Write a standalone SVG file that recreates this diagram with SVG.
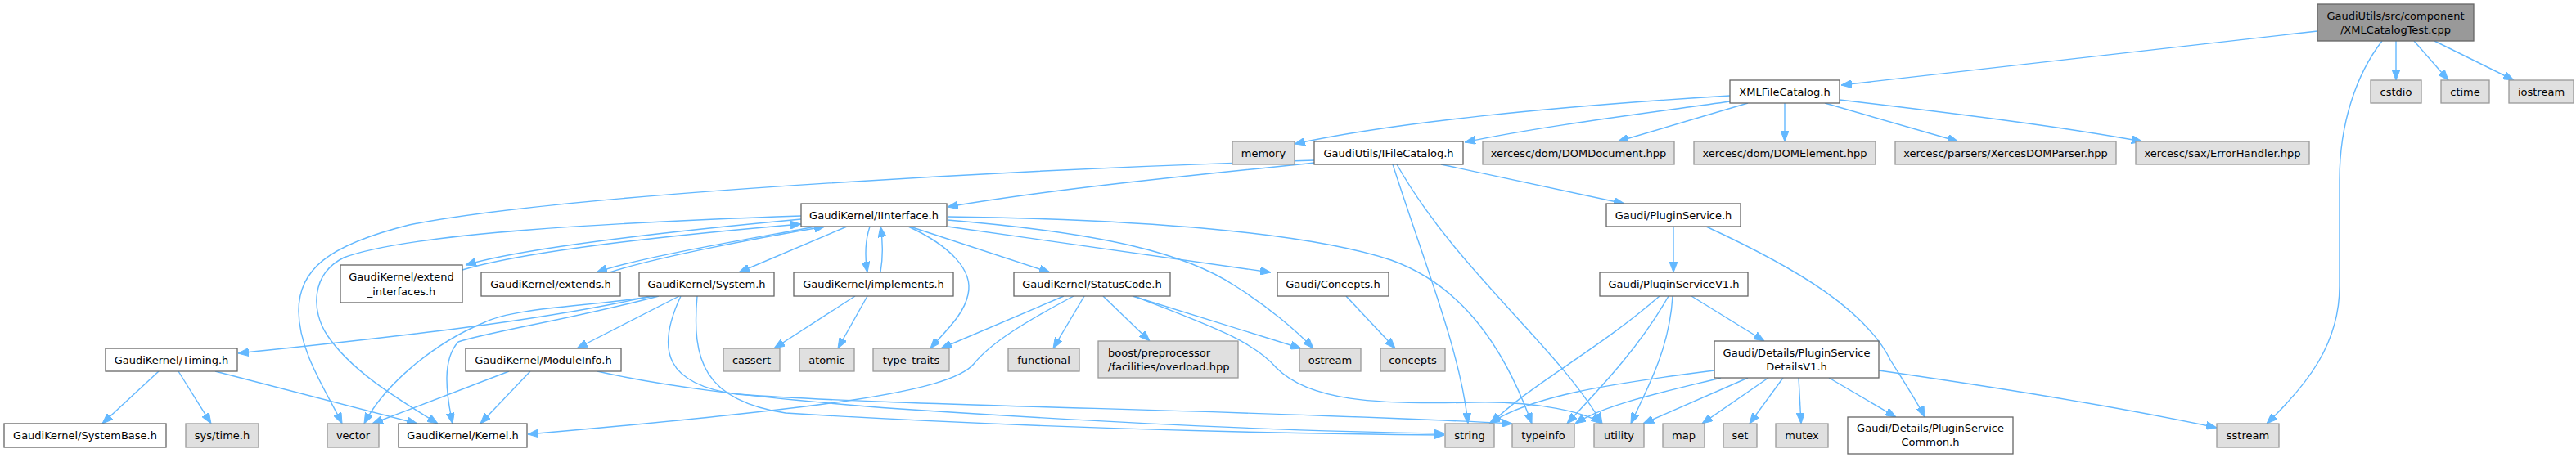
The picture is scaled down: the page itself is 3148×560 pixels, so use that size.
<svg xmlns="http://www.w3.org/2000/svg" width="3148" height="560" viewBox="0 0 3148 560">
<style>
.nd rect{fill:#ffffff;stroke:#666666;stroke-width:1.3}
.sys rect{fill:#e0e0e0;stroke:#999999;stroke-width:1.3}
.root rect{fill:#999999;stroke:#666666;stroke-width:1.3}
text{font-family:"DejaVu Sans","Liberation Sans",sans-serif;font-size:13px;fill:#000000;text-anchor:middle}
text.l{text-anchor:start}
#edges path{fill:none;stroke:#63b8ff;stroke-width:1.4;marker-end:url(#ah)}
</style>
<defs>
<marker id="ah" viewBox="0 0 13 10" refX="13" refY="5" markerWidth="13" markerHeight="10" markerUnits="userSpaceOnUse" orient="auto">
<path d="M0,0 L13,5 L0,10 z" fill="#63b8ff" stroke="#63b8ff" stroke-width="1"/>
</marker>
</defs>
<rect width="3148" height="560" fill="#ffffff"/>
<g id="edges">
<path d="M2832,38 L2250,104"/>
<path d="M2928,50 L2928,98"/>
<path d="M2950,50 L2992,98"/>
<path d="M2975,50 L3072,98"/>
<path d="M2911,50 C2880,90 2859,150 2859,220 L2859,350 C2859,420 2820,470 2770,518"/>
<path d="M2114,117 C1900,130 1700,150 1582,176"/>
<path d="M2114,124 C2000,140 1880,155 1790,174"/>
<path d="M2136,126 L1977,173"/>
<path d="M2181,126 L2181,173"/>
<path d="M2230,126 L2393,173"/>
<path d="M2248,122 C2400,140 2520,155 2618,173"/>
<path d="M1607,199 C1450,215 1280,232 1158,253"/>
<path d="M1607,196 C1300,205 700,235 500,275 C400,300 365,330 365,380 C365,430 400,480 418,518"/>
<path d="M1702,201 C1740,320 1785,430 1794,518"/>
<path d="M1707,201 C1780,330 1900,420 1958,518"/>
<path d="M1761,201 L1985,249"/>
<path d="M979,268 C850,280 650,300 569,324"/>
<path d="M565,330 C650,305 850,285 979,274"/>
<path d="M997,277 C900,295 780,315 729,333"/>
<path d="M745,333 C800,315 920,292 1008,277"/>
<path d="M1035,277 L903,333"/>
<path d="M1063,277 C1057,295 1057,315 1060,333"/>
<path d="M1076,333 C1079,315 1079,295 1076,277"/>
<path d="M1112,277 L1283,333"/>
<path d="M1158,277 L1553,333"/>
<path d="M1110,277 C1160,300 1190,330 1183,360 C1178,385 1155,405 1137,426"/>
<path d="M1158,269 C1350,285 1450,310 1510,350 C1550,375 1585,405 1605,426"/>
<path d="M1158,265 C1400,268 1600,285 1700,318 C1790,350 1840,430 1872,518"/>
<path d="M979,264 C750,272 500,285 420,315 C380,335 380,380 400,410 C430,455 490,490 535,518"/>
<path d="M795,362 C650,395 450,415 291,432"/>
<path d="M800,362 C720,375 630,375 590,395 C530,420 470,470 445,518"/>
<path d="M805,362 C700,390 600,405 560,418 C540,440 545,480 553,518"/>
<path d="M830,362 L705,426"/>
<path d="M832,362 C800,430 815,470 900,482 C1100,497 1500,500 1848,518"/>
<path d="M852,362 C845,440 860,490 960,505 C1200,520 1500,530 1765,532"/>
<path d="M730,454 C800,470 900,485 1100,500 C1400,520 1600,528 1765,530"/>
<path d="M1300,362 L1150,426"/>
<path d="M1312,362 C1250,395 1210,420 1190,445 C1160,480 1000,500 645,531"/>
<path d="M1325,362 L1287,426"/>
<path d="M1348,362 L1405,417"/>
<path d="M1384,362 L1590,426"/>
<path d="M1386,362 C1470,395 1530,415 1560,450 C1600,490 1680,495 1800,492 C1880,490 1940,505 1957,518"/>
<path d="M1645,362 L1705,426"/>
<path d="M194,454 L125,518"/>
<path d="M218,454 L258,518"/>
<path d="M263,454 L510,518"/>
<path d="M622,454 L455,518"/>
<path d="M648,454 L587,518"/>
<path d="M1045,362 L946,426"/>
<path d="M1060,362 L1024,426"/>
<path d="M2045,277 L2045,333"/>
<path d="M2085,277 C2200,330 2280,380 2310,440 C2335,480 2345,495 2352,510"/>
<path d="M2067,362 L2156,417"/>
<path d="M2028,362 C1950,430 1870,470 1822,518"/>
<path d="M2039,362 C2000,430 1950,480 1915,518"/>
<path d="M2044,362 C2040,430 2010,480 1993,518"/>
<path d="M2095,453 C1960,470 1870,485 1820,518"/>
<path d="M2103,462 C2030,480 1960,495 1925,518"/>
<path d="M2136,462 L2008,518"/>
<path d="M2161,462 L2080,518"/>
<path d="M2179,462 L2138,518"/>
<path d="M2198,462 L2201,518"/>
<path d="M2235,462 L2317,510"/>
<path d="M2296,453 C2450,475 2600,500 2709,523"/>
</g>
<g id="n_cpp" class="root"><rect x="2832" y="5" width="191" height="45"/><text x="2927.5" y="24">GaudiUtils/src/component</text><text x="2927.5" y="41">/XMLCatalogTest.cpp</text></g>
<g id="n_xmlfc" class="nd"><rect x="2114" y="98" width="134" height="28"/><text x="2181" y="117">XMLFileCatalog.h</text></g>
<g id="n_cstdio" class="sys"><rect x="2897" y="98" width="62" height="28"/><text x="2928" y="117">cstdio</text></g>
<g id="n_ctime" class="sys"><rect x="2983" y="98" width="59" height="28"/><text x="3012.5" y="117">ctime</text></g>
<g id="n_iostream" class="sys"><rect x="3066" y="98" width="79" height="28"/><text x="3105.5" y="117">iostream</text></g>
<g id="n_memory" class="sys"><rect x="1506" y="173" width="76" height="28"/><text x="1544" y="192">memory</text></g>
<g id="n_ifc" class="nd"><rect x="1606" y="173" width="182" height="28"/><text x="1697" y="192">GaudiUtils/IFileCatalog.h</text></g>
<g id="n_domdoc" class="sys"><rect x="1812" y="173" width="234" height="28"/><text x="1929" y="192">xercesc/dom/DOMDocument.hpp</text></g>
<g id="n_domel" class="sys"><rect x="2070" y="173" width="222" height="28"/><text x="2181" y="192">xercesc/dom/DOMElement.hpp</text></g>
<g id="n_parser" class="sys"><rect x="2316" y="173" width="270" height="28"/><text x="2451" y="192">xercesc/parsers/XercesDOMParser.hpp</text></g>
<g id="n_errh" class="sys"><rect x="2610" y="173" width="212" height="28"/><text x="2716" y="192">xercesc/sax/ErrorHandler.hpp</text></g>
<g id="n_iint" class="nd"><rect x="979" y="249" width="178" height="28"/><text x="1068" y="268">GaudiKernel/IInterface.h</text></g>
<g id="n_ps" class="nd"><rect x="1963" y="249" width="164" height="28"/><text x="2045" y="268">Gaudi/PluginService.h</text></g>
<g id="n_extif" class="nd"><rect x="416" y="324" width="149" height="46"/><text x="490.5" y="343">GaudiKernel/extend</text><text x="490.5" y="361">_interfaces.h</text></g>
<g id="n_extends" class="nd"><rect x="588" y="333" width="170" height="29"/><text x="673" y="352">GaudiKernel/extends.h</text></g>
<g id="n_system" class="nd"><rect x="781" y="333" width="165" height="29"/><text x="863.5" y="352">GaudiKernel/System.h</text></g>
<g id="n_impl" class="nd"><rect x="970" y="333" width="195" height="29"/><text x="1067.5" y="352">GaudiKernel/implements.h</text></g>
<g id="n_sc" class="nd"><rect x="1239" y="333" width="191" height="29"/><text x="1334.5" y="352">GaudiKernel/StatusCode.h</text></g>
<g id="n_concepts_h" class="nd"><rect x="1561" y="333" width="136" height="29"/><text x="1629" y="352">Gaudi/Concepts.h</text></g>
<g id="n_psv1" class="nd"><rect x="1955" y="333" width="181" height="29"/><text x="2045.5" y="352">Gaudi/PluginServiceV1.h</text></g>
<g id="n_timing" class="nd"><rect x="129" y="426" width="161" height="28"/><text x="209.5" y="445">GaudiKernel/Timing.h</text></g>
<g id="n_modinfo" class="nd"><rect x="569" y="426" width="190" height="28"/><text x="664" y="445">GaudiKernel/ModuleInfo.h</text></g>
<g id="n_cassert" class="sys"><rect x="884" y="426" width="69" height="28"/><text x="918.5" y="445">cassert</text></g>
<g id="n_atomic" class="sys"><rect x="977" y="426" width="67" height="28"/><text x="1010.5" y="445">atomic</text></g>
<g id="n_tt" class="sys"><rect x="1067" y="426" width="93" height="28"/><text x="1113.5" y="445">type_traits</text></g>
<g id="n_functional" class="sys"><rect x="1232" y="426" width="87" height="28"/><text x="1275.5" y="445">functional</text></g>
<g id="n_boost" class="sys"><rect x="1342" y="417" width="171" height="45"/><text class="l" x="1354" y="436">boost/preprocessor</text><text class="l" x="1354" y="453">/facilities/overload.hpp</text></g>
<g id="n_ostream" class="sys"><rect x="1588" y="426" width="75" height="28"/><text x="1625.5" y="445">ostream</text></g>
<g id="n_concepts" class="sys"><rect x="1687" y="426" width="79" height="28"/><text x="1726.5" y="445">concepts</text></g>
<g id="n_detv1" class="nd"><rect x="2095" y="417" width="201" height="45"/><text x="2195.5" y="436">Gaudi/Details/PluginService</text><text x="2195.5" y="453">DetailsV1.h</text></g>
<g id="n_sysbase" class="nd"><rect x="5" y="518" width="198" height="29"/><text x="104" y="537">GaudiKernel/SystemBase.h</text></g>
<g id="n_systime" class="sys"><rect x="227" y="518" width="89" height="29"/><text x="271.5" y="537">sys/time.h</text></g>
<g id="n_vector" class="sys"><rect x="400" y="518" width="63" height="29"/><text x="431.5" y="537">vector</text></g>
<g id="n_kernel" class="nd"><rect x="487" y="518" width="157" height="29"/><text x="565.5" y="537">GaudiKernel/Kernel.h</text></g>
<g id="n_string" class="sys"><rect x="1766" y="518" width="60" height="29"/><text x="1796" y="537">string</text></g>
<g id="n_typeinfo" class="sys"><rect x="1848" y="518" width="76" height="29"/><text x="1886" y="537">typeinfo</text></g>
<g id="n_utility" class="sys"><rect x="1948" y="518" width="61" height="29"/><text x="1978.5" y="537">utility</text></g>
<g id="n_map" class="sys"><rect x="2032" y="518" width="51" height="29"/><text x="2057.5" y="537">map</text></g>
<g id="n_set" class="sys"><rect x="2106" y="518" width="41" height="29"/><text x="2126.5" y="537">set</text></g>
<g id="n_mutex" class="sys"><rect x="2170" y="518" width="64" height="29"/><text x="2202" y="537">mutex</text></g>
<g id="n_common" class="nd"><rect x="2258" y="510" width="202" height="45"/><text x="2359" y="528">Gaudi/Details/PluginService</text><text x="2359" y="545">Common.h</text></g>
<g id="n_sstream" class="sys"><rect x="2709" y="518" width="76" height="29"/><text x="2747" y="537">sstream</text></g>
</svg>
